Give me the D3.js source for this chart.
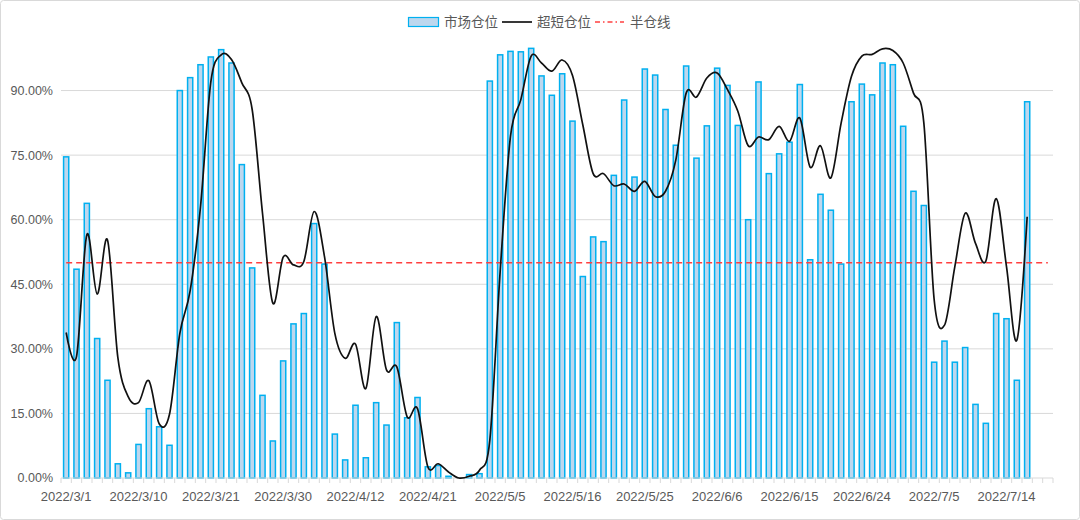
<!DOCTYPE html>
<html>
<head>
<meta charset="utf-8">
<script src="https://cdn.jsdelivr.net/npm/d3@7"></script>
<style>
  body { margin: 0; background: #fff; }
  text { font-family: "Liberation Sans", Arial, sans-serif; }
</style>
</head>
<body>
<div id="chart"></div>
<script>
const width = 1080;
const height = 520;

// trading days, 2022/3/1 .. 2022/7/20
const dates = [
  "2022/3/1","2022/3/2","2022/3/3","2022/3/4","2022/3/7","2022/3/8","2022/3/9","2022/3/10","2022/3/11","2022/3/14",
  "2022/3/15","2022/3/16","2022/3/17","2022/3/18","2022/3/21","2022/3/22","2022/3/23","2022/3/24","2022/3/25","2022/3/28",
  "2022/3/29","2022/3/30","2022/3/31","2022/4/1","2022/4/6","2022/4/7","2022/4/8","2022/4/11","2022/4/12","2022/4/13",
  "2022/4/14","2022/4/15","2022/4/18","2022/4/19","2022/4/20","2022/4/21","2022/4/22","2022/4/25","2022/4/26","2022/4/27",
  "2022/4/28","2022/4/29","2022/5/5","2022/5/6","2022/5/9","2022/5/10","2022/5/11","2022/5/12","2022/5/13","2022/5/16",
  "2022/5/17","2022/5/18","2022/5/19","2022/5/20","2022/5/23","2022/5/24","2022/5/25","2022/5/26","2022/5/27","2022/5/30",
  "2022/5/31","2022/6/1","2022/6/2","2022/6/6","2022/6/7","2022/6/8","2022/6/9","2022/6/10","2022/6/13","2022/6/14",
  "2022/6/15","2022/6/16","2022/6/17","2022/6/20","2022/6/21","2022/6/22","2022/6/23","2022/6/24","2022/6/27","2022/6/28",
  "2022/6/29","2022/6/30","2022/7/1","2022/7/4","2022/7/5","2022/7/6","2022/7/7","2022/7/8","2022/7/11","2022/7/12",
  "2022/7/13","2022/7/14","2022/7/15","2022/7/18","2022/7/19","2022/7/20"
];

// 市场仓位 (%)
const market = [
  74.6, 48.5, 63.8, 32.4, 22.7, 3.3, 1.2, 7.8, 16.1, 11.9,
  7.6, 90.0, 93.0, 96.0, 97.8, 99.5, 96.4, 72.8, 48.8, 19.2,
  8.6, 27.2, 35.8, 38.2, 59.1, 49.7, 10.2, 4.2, 16.9, 4.7,
  17.5, 12.3, 36.1, 14.0, 18.7, 2.6, 2.9, 0.4, 0, 0.8,
  1.0, 92.2, 98.3, 99.1, 99.0, 99.8, 93.4, 88.9, 93.9, 82.9,
  46.8, 56.0, 54.9, 70.3, 87.8, 69.9, 95.0, 93.6, 85.6, 77.3,
  95.7, 74.3, 81.8, 95.2, 91.2, 81.9, 60.0, 92.0, 70.7, 75.3,
  78.0, 91.4, 50.7, 65.9, 62.2, 49.7, 87.4, 91.5, 89.0, 96.4,
  96.0, 81.7, 66.6, 63.3, 26.9, 31.8, 26.9, 30.3, 17.1, 12.7,
  38.2, 37.0, 22.7, 87.4
];

// 超短仓位 (%)
const ultra = [
  33.8, 28.2, 56.5, 42.7, 55.3, 28.0, 18.9, 17.5, 22.6, 12.6,
  14.8, 33.6, 43.5, 63.0, 92.0, 98.3, 97.2, 91.8, 85.6, 61.5,
  40.6, 51.3, 49.5, 50.3, 61.9, 51.4, 33.6, 27.8, 31.1, 20.8,
  37.5, 25.1, 25.8, 14.2, 16.1, 2.6, 3.3, 1.4, 0, 0.4,
  1.8, 8.8, 48.0, 79.4, 87.9, 98.0, 96.4, 94.5, 97.1, 93.5,
  82.0, 70.7, 70.7, 67.9, 68.3, 66.6, 68.9, 65.4, 66.6, 73.9,
  89.4, 88.5, 92.9, 94.1, 90.2, 85.2, 77.2, 79.2, 78.6, 81.7,
  78.2, 83.6, 72.2, 77.2, 69.7, 82.5, 93.3, 98.0, 98.4, 99.7,
  99.3, 96.4, 89.4, 82.5, 41.4, 35.5, 49.1, 61.5, 54.5, 50.4,
  64.9, 49.1, 32.0, 60.7
];

const halfLine = 50;
const yTicks = [0, 15, 30, 45, 60, 75, 90];

const svg = d3.select("#chart")
  .append("svg")
  .attr("width", width)
  .attr("height", height);

svg.append("rect")
  .attr("x", 0.5).attr("y", 0.5)
  .attr("width", width - 1).attr("height", height - 1)
  .attr("rx", 3)
  .attr("fill", "#fff")
  .attr("stroke", "#d9d9d9");

const x = d3.scaleBand().domain(dates).range([61, 1053]).padding(0);
const y = d3.scaleLinear().domain([0, 100]).range([478, 47.5]);
const bw = x.bandwidth();
const cx = i => x(dates[i]) + bw / 2;

// gridlines
svg.append("g")
  .selectAll("line")
  .data(yTicks.slice(1))
  .enter()
  .append("line")
  .attr("x1", 61).attr("x2", 1053)
  .attr("y1", d => y(d)).attr("y2", d => y(d))
  .attr("stroke", "#d9d9d9")
  .attr("stroke-width", 1);

// y labels
svg.append("g")
  .selectAll("text")
  .data(yTicks)
  .enter()
  .append("text")
  .attr("x", 53)
  .attr("y", d => y(d))
  .attr("dy", "0.35em")
  .attr("text-anchor", "end")
  .attr("font-size", "12.5px")
  .attr("fill", "#595959")
  .text(d => d3.format(".2f")(d) + "%");

// bars
svg.append("g")
  .selectAll("rect")
  .data(market)
  .enter()
  .append("rect")
  .attr("x", (d, i) => cx(i) - bw * 0.25)
  .attr("y", d => y(d))
  .attr("width", bw * 0.5)
  .attr("height", d => y(0) - y(d))
  .attr("fill", "#bdd7ee")
  .attr("stroke", "#00b0f0")
  .attr("stroke-width", 1.5);

// x axis line + ticks between categories
svg.append("line")
  .attr("x1", 61).attr("x2", 1053)
  .attr("y1", y(0)).attr("y2", y(0))
  .attr("stroke", "#d9d9d9");

svg.append("g")
  .selectAll("line")
  .data(dates.concat([null]))
  .enter()
  .append("line")
  .attr("x1", (d, i) => 61 + i * x.step())
  .attr("x2", (d, i) => 61 + i * x.step())
  .attr("y1", y(0)).attr("y2", y(0) + 5)
  .attr("stroke", "#d9d9d9");

svg.append("g")
  .selectAll("text")
  .data(dates.filter((d, i) => i % 7 === 0))
  .enter()
  .append("text")
  .attr("x", d => x(d) + bw / 2)
  .attr("y", 496)
  .attr("dy", "0.35em")
  .attr("text-anchor", "middle")
  .attr("font-size", "13px")
  .attr("fill", "#595959")
  .text(d => d);

// half position line
svg.append("line")
  .attr("x1", cx(0)).attr("x2", cx(dates.length - 1))
  .attr("y1", y(halfLine)).attr("y2", y(halfLine))
  .attr("stroke", "#ff4040")
  .attr("stroke-width", 1.3)
  .attr("stroke-dasharray", "6,4");

// smoothed line
const line = d3.line()
  .x((d, i) => cx(i))
  .y(d => y(d))
  .curve(d3.curveCatmullRom.alpha(0));

svg.append("path")
  .datum(ultra)
  .attr("d", line)
  .attr("fill", "none")
  .attr("stroke", "#111")
  .attr("stroke-width", 1.7);

// legend
const lg = svg.append("g").attr("font-size", "13.5px").attr("fill", "#595959");
lg.append("rect")
  .attr("x", 408.5).attr("y", 17.5).attr("width", 30).attr("height", 9)
  .attr("fill", "#bdd7ee").attr("stroke", "#00b0f0").attr("stroke-width", 1.2);
lg.append("text").attr("x", 444).attr("y", 22).attr("dy", "0.35em")
  .style("font-family", "'Noto Sans CJK SC', sans-serif").text("市场仓位");
lg.append("line")
  .attr("x1", 502).attr("x2", 532).attr("y1", 22).attr("y2", 22)
  .attr("stroke", "#222").attr("stroke-width", 1.8);
lg.append("text").attr("x", 537).attr("y", 22).attr("dy", "0.35em")
  .style("font-family", "'Noto Sans CJK SC', sans-serif").text("超短仓位");
lg.append("line")
  .attr("x1", 595).attr("x2", 624).attr("y1", 22).attr("y2", 22)
  .attr("stroke", "#ff4040").attr("stroke-width", 1.3)
  .attr("stroke-dasharray", "5,3,1.5,3");
lg.append("text").attr("x", 630).attr("y", 22).attr("dy", "0.35em")
  .style("font-family", "'Noto Sans CJK SC', sans-serif").text("半仓线");
</script>
</body>
</html>
